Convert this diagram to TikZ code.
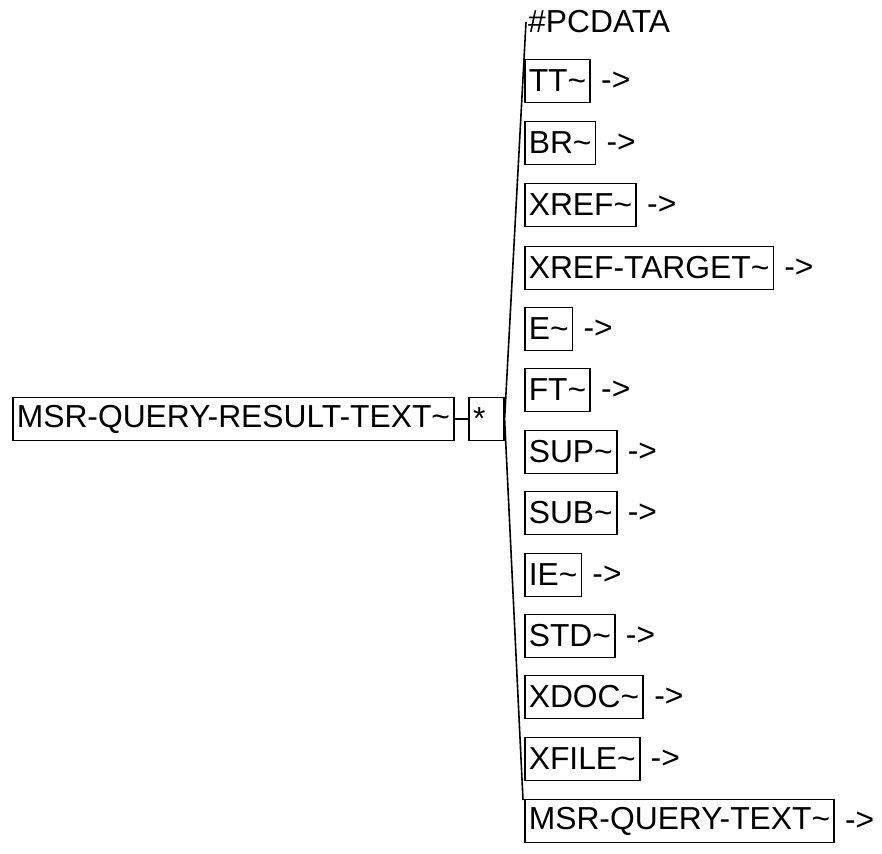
\documentclass[tikz,border=0pt]{standalone}
\usepackage{fontspec}
\setmainfont{Liberation Sans}
\usetikzlibrary{positioning}
\begin{document}
\begin{tikzpicture}[x=1pt, y=-1pt,
    elem/.style={draw, line width=1.6pt, rectangle, inner xsep=4pt, inner ysep=0pt,
        minimum height=43pt, anchor=west, font=\fontsize{31.8}{34}\selectfont},
    lbl/.style={inner sep=0pt, anchor=west, font=\fontsize{31.8}{34}\selectfont},
    link/.style={line width=1.6pt}]
    \useasboundingbox (0,0) rectangle (882,853);

    % === Root element and group marker ===
    \node[elem] (root) at (12, 419) {MSR-QUERY-RESULT-TEXT\textasciitilde};
    \node[elem, minimum width=35pt, inner xsep=2pt, align=left] (star) at (468, 419) {*\hspace{14pt}};
    \draw[link] (root.east) -- (star.west);

    % === Choice bus ===
    \coordinate (btop) at (526, 22);
    \coordinate (bbot) at (523, 800);
    \draw[link] (btop) -- (star.east) -- (bbot);

    % === Children ===
    \node[lbl] (pcdata) at (528, 22) {\#PCDATA};
    \foreach \name/\txt/\y in {tt/TT/81, br/BR/143, xref/XREF/205,
        xreftarget/XREF-TARGET/268, e/E/329, ft/FT/390, sup/SUP/452,
        sub/SUB/513, ie/IE/575, std/STD/636, xdoc/XDOC/697,
        xfile/XFILE/759, querytext/MSR-QUERY-TEXT/821} {
        \node[elem] (\name) at (524, \y) {\txt\textasciitilde};
        \node[lbl, right=10pt of \name] (\name-ref) {->};
    }
\end{tikzpicture}
\end{document}
